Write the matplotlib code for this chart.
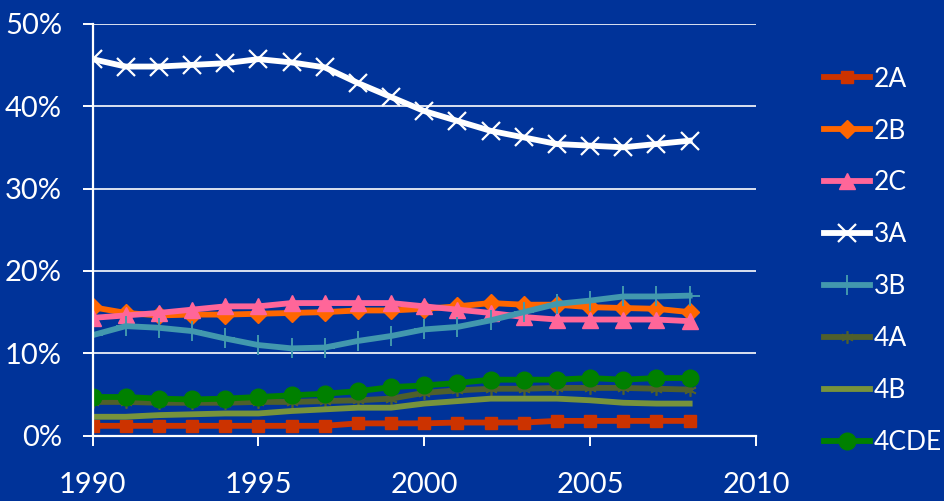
import matplotlib
matplotlib.use("Agg")
import matplotlib.pyplot as plt
from matplotlib.ticker import PercentFormatter

years = list(range(1990, 2009))

s2A = [1.2, 1.2, 1.2, 1.2, 1.2, 1.2, 1.2, 1.2, 1.5, 1.5, 1.5, 1.6, 1.6, 1.6, 1.8, 1.8, 1.8, 1.8, 1.8]
s2B = [15.6, 14.9, 14.6, 14.7, 14.7, 14.8, 14.9, 15.0, 15.2, 15.2, 15.4, 15.7, 16.1, 15.9, 15.9, 15.6, 15.5, 15.4, 15.0]
s2C = [14.3, 14.6, 14.9, 15.3, 15.7, 15.7, 16.1, 16.1, 16.1, 16.1, 15.7, 15.3, 14.9, 14.4, 14.1, 14.1, 14.1, 14.1, 13.9]
s3A = [45.7, 44.8, 44.8, 45.0, 45.2, 45.7, 45.3, 44.7, 42.8, 41.1, 39.4, 38.2, 37.0, 36.2, 35.4, 35.2, 35.0, 35.4, 35.8]
s3B = [12.2, 13.3, 13.1, 12.7, 11.8, 11.0, 10.6, 10.7, 11.5, 12.1, 12.9, 13.2, 14.0, 15.0, 16.0, 16.4, 16.9, 16.9, 17.0]
s4A = [4.1, 4.1, 4.0, 4.0, 4.0, 4.1, 4.1, 4.2, 4.3, 4.5, 5.2, 5.5, 5.7, 5.7, 5.8, 5.8, 5.8, 5.7, 5.6]
s4B = [2.3, 2.3, 2.5, 2.6, 2.7, 2.7, 3.0, 3.2, 3.4, 3.4, 3.9, 4.2, 4.5, 4.5, 4.5, 4.3, 4.0, 3.9, 3.9]
s4CDE = [4.7, 4.7, 4.5, 4.4, 4.5, 4.7, 4.9, 5.1, 5.4, 5.9, 6.1, 6.4, 6.8, 6.8, 6.8, 7.0, 6.8, 7.0, 7.0]

bg = "#003399"
plt.rcParams['font.family'] = ['Lato', 'DejaVu Sans']

fig = plt.figure(figsize=(9.45, 5.01), dpi=100, facecolor=bg)
ax = fig.add_axes([0.0979, 0.1303, 0.7021, 0.8224], facecolor=bg)

lw = 4.2
ax.plot(years, s2A, color="#cc3300", lw=lw, marker="s", ms=9, label="2A")
ax.plot(years, s2B, color="#ff6600", lw=lw, marker="D", ms=9, label="2B")
ax.plot(years, s2C, color="#ff6699", lw=lw, marker="^", ms=12, label="2C")
ax.plot(years, s3A, color="white", lw=lw, marker="x", ms=13, mew=1.6, label="3A")
ax.plot(years, s3B, color="#4298ae", lw=lw, marker="+", ms=14, mew=1.4, label="3B")
ax.plot(years, s4A, color="#4f5f2c", lw=lw, marker=(6, 2, 0), ms=9, mew=1.2, label="4A")
ax.plot(years, s4B, color="#77933c", lw=lw, label="4B")
ax.plot(years, s4CDE, color="#008000", lw=lw, marker="o", ms=12, label="4CDE")

ax.set_xlim(1990, 2010)
ax.set_ylim(0, 50)
ax.set_xticks(range(1990, 2011, 5))
ax.set_yticks(range(0, 51, 10))
ax.yaxis.set_major_formatter(PercentFormatter(decimals=0))

ax.grid(axis="y", color="white", lw=1.2)
ax.set_axisbelow(True)
for side in ["top", "right"]:
    ax.spines[side].set_visible(False)
for side in ["left", "bottom"]:
    ax.spines[side].set_color("white")
    ax.spines[side].set_linewidth(1.6)

ax.tick_params(axis="both", colors="white", labelsize=21, direction="out", length=7, width=1.4)
ax.tick_params(axis="y", pad=15)
ax.tick_params(axis="x", pad=19)

fig.legend(loc="upper left", bbox_to_anchor=(0.872, 0.867), frameon=False,
           fontsize=19, labelcolor="white", handlelength=1.75, handletextpad=0.12,
           labelspacing=1.02, borderaxespad=0, borderpad=0)

fig.savefig("out.png", dpi=100, facecolor=bg)
